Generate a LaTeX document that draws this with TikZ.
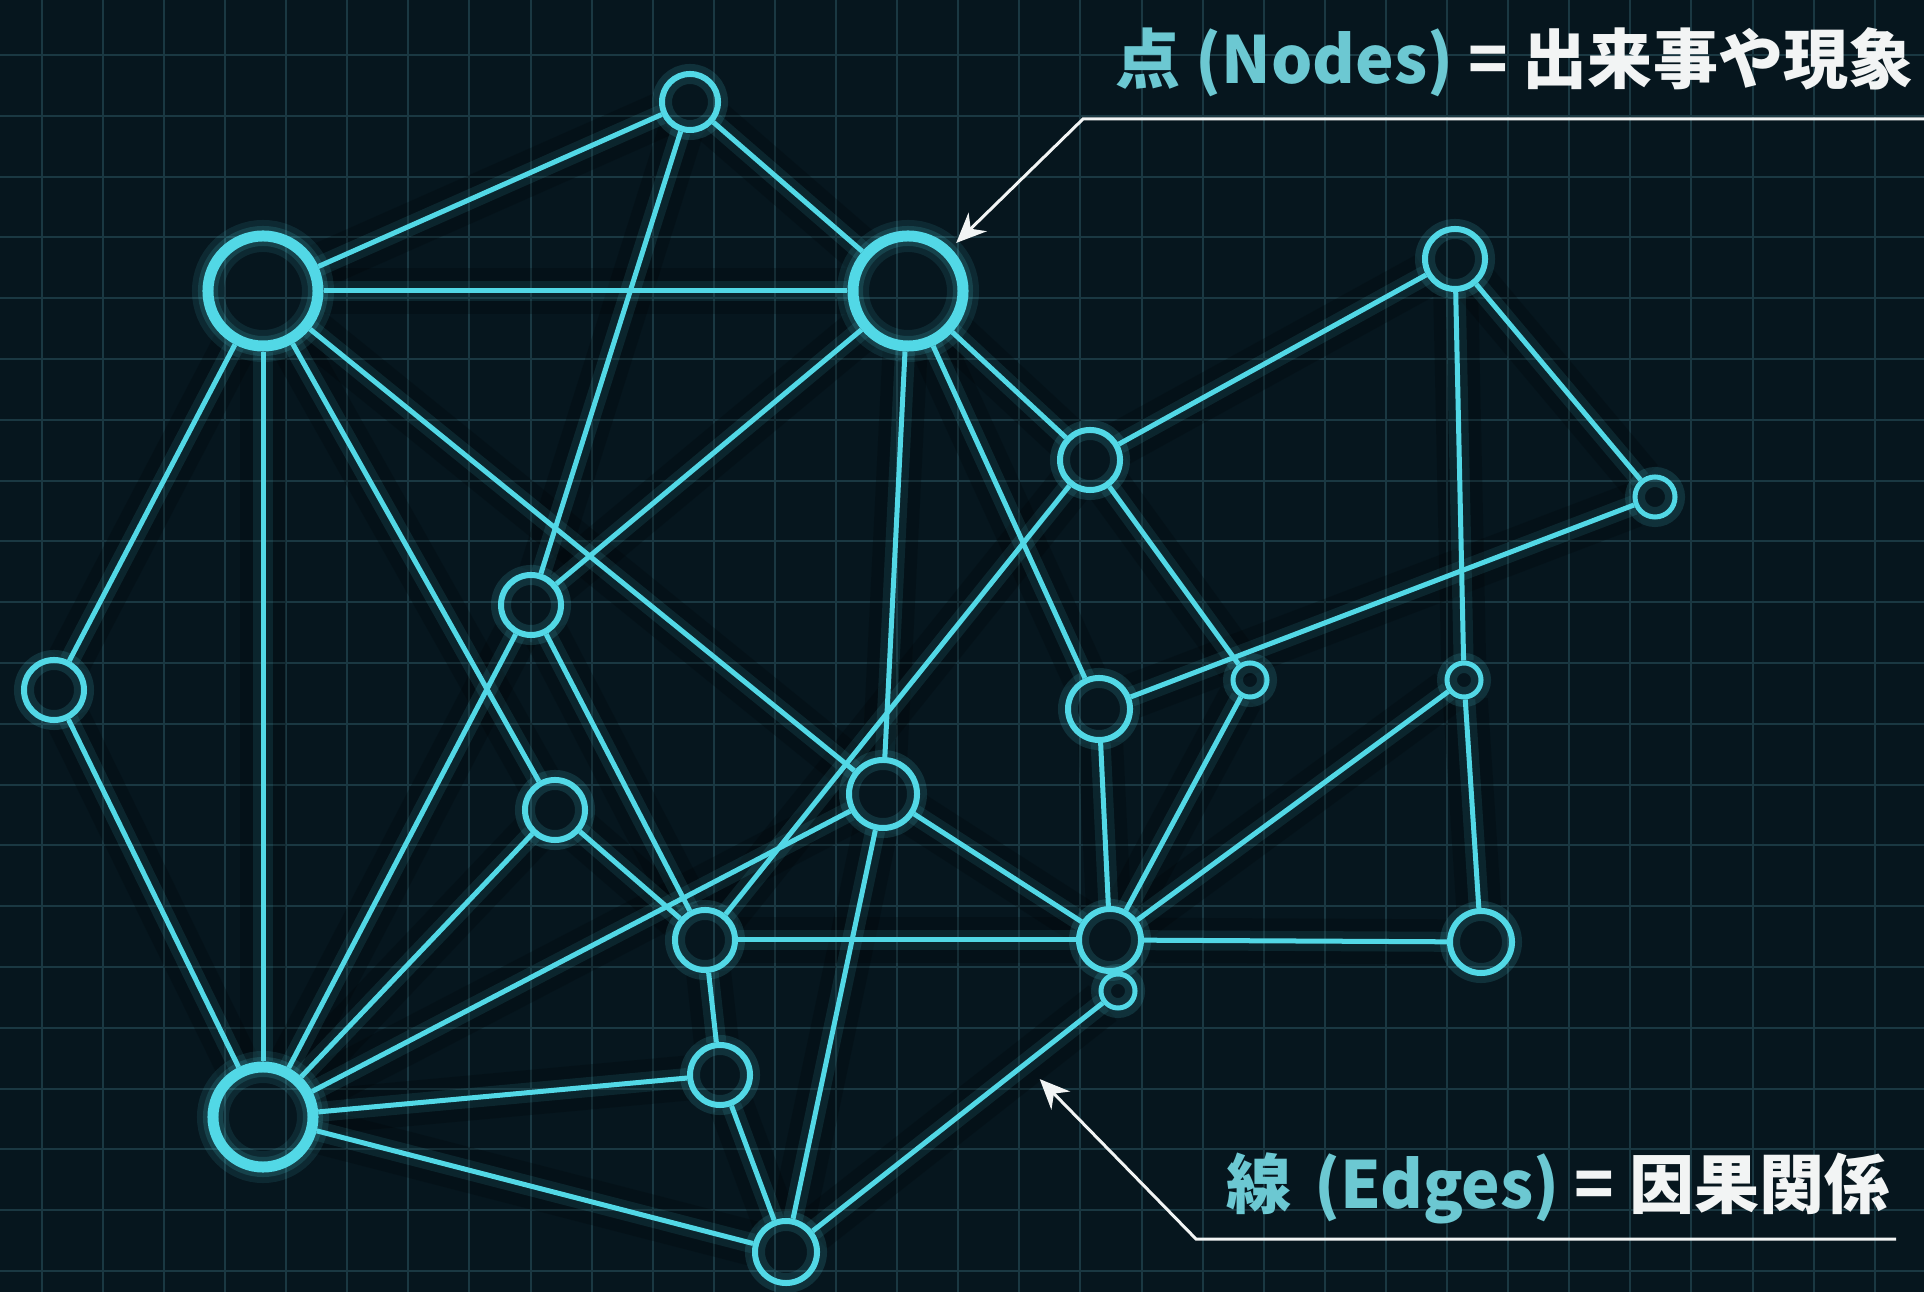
\documentclass[tikz,border=0pt]{standalone}
\usepackage{fontspec}
\usepackage{xcolor}
\newfontfamily\jpfont{Noto Sans CJK JP}
\usepackage{tikz}
\usetikzlibrary{arrows.meta, calc, backgrounds}
\definecolor{bgnavy}{HTML}{06161E}
\definecolor{gridc}{HTML}{1A3842}
\definecolor{neon}{HTML}{52D8E6}
\definecolor{labcyan}{HTML}{6CC8D2}
\definecolor{labwhite}{HTML}{F2F4F4}
\tikzstyle{link} = [neon, line width=0.05cm]
\tikzstyle{linkglow} = [neon, line width=0.2cm, draw opacity=0.1]
\tikzstyle{linkshade} = [black, line width=0.45cm, draw opacity=0.2]
\tikzstyle{event} = [circle, draw=neon, line width=0.06cm, inner sep=0pt, minimum size=0.6cm, preaction={draw=neon, line width=0.2cm, draw opacity=0.14}]
\tikzstyle{hub} = [event, line width=0.11cm, minimum size=1.1cm, preaction={draw=neon, line width=0.32cm, draw opacity=0.1}]
\tikzstyle{tiny} = [event, line width=0.05cm, minimum size=0.34cm]
\tikzstyle{callout} = [draw=labwhite, line width=0.03cm, -{Stealth[length=0.3cm, width=0.26cm]}]
\tikzstyle{caption} = [anchor=base east, inner sep=0pt, font=\jpfont\bfseries\fontsize{18.5}{22}\selectfont]

% enlaces causales entre los nodos
\newcommand{\causes}{hubL/top, hubL/hubR, hubL/west, hubL/hubS, hubL/l1, hubL/core,
  top/g1, top/hubR, hubR/g1, hubR/core, hubR/i1, hubR/e1,
  e1/ne, e1/j1, e1/n1, ne/k1, ne/far, far/i1, k1/p1, k1/o1, j1/o1, i1/o1,
  o1/p1, n1/o1, core/o1, core/bot, core/hubS,
  hubS/west, hubS/g1, hubS/l1, hubS/s1, hubS/bot,
  g1/n1, l1/n1, n1/s1, s1/bot, bot/q1}

\begin{document}
\begin{tikzpicture}[x=0.01cm, y=-0.01cm]
    \useasboundingbox (0,0) rectangle (1924,1292);

    % Nodos
    \node (hubL) [hub] at (263,291) {};
    \node (hubR) [hub] at (908,291) {};
    \node (hubS) [hub, minimum size=1.0cm] at (263,1117) {};
    \node (top) [event, minimum size=0.56cm] at (690,102) {};
    \node (ne) [event] at (1455,259) {};
    \node (e1) [event] at (1090,460) {};
    \node (far) [tiny, minimum size=0.4cm] at (1655,497) {};
    \node (g1) [event] at (531,605) {};
    \node (west) [event] at (54,690) {};
    \node (i1) [event, minimum size=0.62cm] at (1099,709) {};
    \node (j1) [tiny] at (1250,680) {};
    \node (k1) [tiny] at (1464,680) {};
    \node (l1) [event] at (555,810) {};
    \node (core) [event, minimum size=0.68cm] at (883,794) {};
    \node (n1) [event] at (705,940) {};
    \node (o1) [event, minimum size=0.62cm] at (1110,940) {};
    \node (p1) [event, minimum size=0.62cm] at (1481,942) {};
    \node (q1) [tiny] at (1118,991) {};
    \node (s1) [event] at (720,1075) {};
    \node (bot) [event, minimum size=0.62cm] at (786,1252) {};

    % Fondo, rejilla y brillo
    \begin{scope}[on background layer]
        \fill [bgnavy] (0,0) rectangle (1924,1292);
        \foreach \i in {0,...,30}
            \draw [gridc, line width=0.02cm] (41.7+61.1*\i,0) -- (41.7+61.1*\i,1292);
        \foreach \j in {0,...,20}
            \draw [gridc, line width=0.02cm] (0,55+60.8*\j) -- (1924,55+60.8*\j);
        \foreach \a/\b in \causes
            \draw [linkshade] (\a) -- (\b);
        \foreach \a/\b in \causes
            \draw [linkglow] (\a) -- (\b);
    \end{scope}

    % Aristas
    \foreach \a/\b in \causes
        \draw [link] (\a) -- (\b);

    % Etiquetas
    \node (capNodes) [caption] at (1914,84) {\textcolor{labcyan}{点 (Nodes)} \textcolor{labwhite}{= 出来事や現象}};
    \node (capEdges) [caption] at (1890,1208) {\textcolor{labcyan}{線\hspace{0.35em}(Edges)} \textcolor{labwhite}{= 因果関係}};

    \coordinate (nEnd) at (1924,119);
    \coordinate (nBend) at (1083,119);
    \draw [callout, shorten >=0.075cm] (nEnd) -- (nBend) -- (hubR.45);

    \coordinate (eEnd) at (1896,1239);
    \coordinate (eBend) at (1196,1239);
    \draw [callout, shorten >=0.21cm] (eEnd) -- (eBend) -- ($(bot)!0.72!(q1)$);
\end{tikzpicture}
\end{document}
